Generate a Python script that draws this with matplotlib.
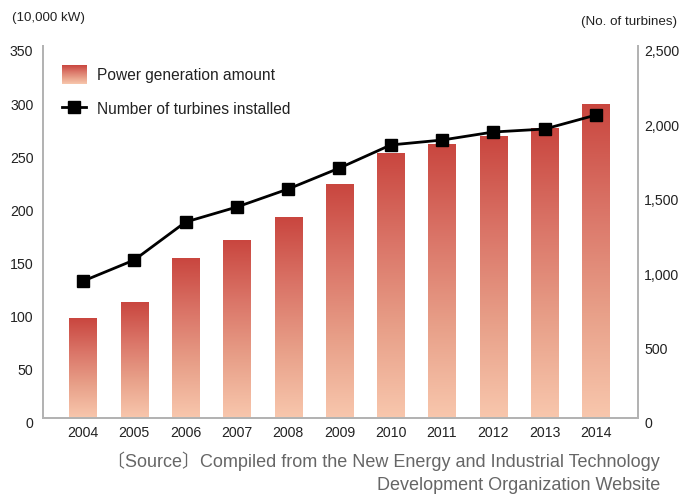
import numpy as np
import matplotlib
matplotlib.use('Agg')
import matplotlib.pyplot as plt
from matplotlib.colors import LinearSegmentedColormap
from matplotlib.legend_handler import HandlerBase
from matplotlib.image import BboxImage
from matplotlib.transforms import Bbox, TransformedBbox, ScaledTranslation
from matplotlib.patches import Rectangle
from matplotlib.lines import Line2D

plt.rcParams['font.family'] = ['Liberation Sans', 'Noto Sans CJK JP', 'DejaVu Sans']

years = ['2004', '2005', '2006', '2007', '2008', '2009', '2010', '2011', '2012', '2013', '2014']
power = [94, 109, 150, 167, 189, 220, 249, 257, 265, 272, 295]   # 10,000 kW
turbines = [920, 1062, 1317, 1418, 1539, 1680, 1835, 1868, 1922, 1942, 2036]
left_ticks = [0, 50, 100, 150, 200, 250, 300, 350]
right_ticks = [0, 500, 1000, 1500, 2000, 2500]
right_labels = ['0', '500', '1,000', '1,500', '2,000', '2,500']

grad_cmap = LinearSegmentedColormap.from_list(
    'bar_grad', ['#F8C7AD', '#E8A089', '#DA7467', '#C9463F'])
grad = np.linspace(1, 0, 256).reshape(-1, 1)


class GradientHandler(HandlerBase):
    def create_artists(self, legend, orig_handle, xdescent, ydescent,
                       width, height, fontsize, trans):
        bb = TransformedBbox(Bbox.from_bounds(-xdescent, -ydescent, width, height), trans)
        img = BboxImage(bb, cmap=grad_cmap, interpolation='bilinear')
        img.set_data(grad)
        return [img]


fig = plt.figure(figsize=(6.82, 4.95), dpi=100)
ax = fig.add_axes([43 / 682, 77 / 495, 595 / 682, 372 / 495])
ax2 = ax.twinx()

x = np.arange(len(years))
bars = ax.bar(x, power, width=0.53, color='none', zorder=2)
for b in bars:
    x0 = b.get_x()
    ax.imshow(grad, cmap=grad_cmap, aspect='auto', interpolation='bilinear',
              extent=[x0, x0 + b.get_width(), 0, b.get_height()], zorder=2)

ax2.plot(x, turbines, color='black', lw=2, marker='s', markersize=8,
         markerfacecolor='black', markeredgecolor='black', zorder=5)

ax.set_xlim(-0.78, len(years) - 1 + 0.82)
ax.set_ylim(0, 350)
ax2.set_ylim(0, 2500)
ax.set_xticks(x)
ax.set_xticklabels(years)
ax.set_yticks(left_ticks)
ax2.set_yticks(right_ticks)
ax2.set_yticklabels(right_labels)

for a in (ax, ax2):
    a.spines['top'].set_visible(False)
    for s in ('left', 'right', 'bottom'):
        a.spines[s].set_color('#b3b3b3')
        a.spines[s].set_linewidth(1.4)
    a.tick_params(length=0, labelsize=10.2, colors='#222222')
ax.tick_params(axis='y', pad=7)
ax.tick_params(axis='x', pad=6)
ax2.tick_params(axis='y', pad=4.5)

shift = ScaledTranslation(0, -5 / 100, fig.dpi_scale_trans)
for lab in ax.get_yticklabels() + ax2.get_yticklabels():
    lab.set_transform(lab.get_transform() + shift)

fig.text(12 / 682, 1 - 18 / 495, '(10,000 kW)', fontsize=9.6, color='#222222',
         ha='left', va='center')
fig.text(677 / 682, 1 - 22 / 495, '(No. of turbines)', fontsize=9.6, color='#222222',
         ha='right', va='center')

handles = [Rectangle((0, 0), 1, 1),
           Line2D([], [], color='black', lw=2, marker='s', markersize=8)]
labels = ['Power generation amount', 'Number of turbines installed']
leg = ax.legend(handles, labels, loc='upper left',
                bbox_to_anchor=(62 / 682, 1 - 65 / 495), bbox_transform=fig.transFigure,
                frameon=False, fontsize=11.2, borderpad=0, borderaxespad=0,
                handlelength=1.55, handleheight=1.5, handletextpad=0.7,
                labelspacing=1.0, handler_map={Rectangle: GradientHandler()})
for t in leg.get_texts():
    t.set_color('#222222')
leg.set_zorder(10)

fig.text(660 / 682, 1 - 461 / 495,
         '〔Source〕Compiled from the New Energy and Industrial Technology',
         fontsize=13, color='#666666', ha='right', va='center')
fig.text(660 / 682, 1 - 485 / 495, 'Development Organization Website',
         fontsize=13, color='#666666', ha='right', va='center')

fig.savefig('out.png', dpi=100)
